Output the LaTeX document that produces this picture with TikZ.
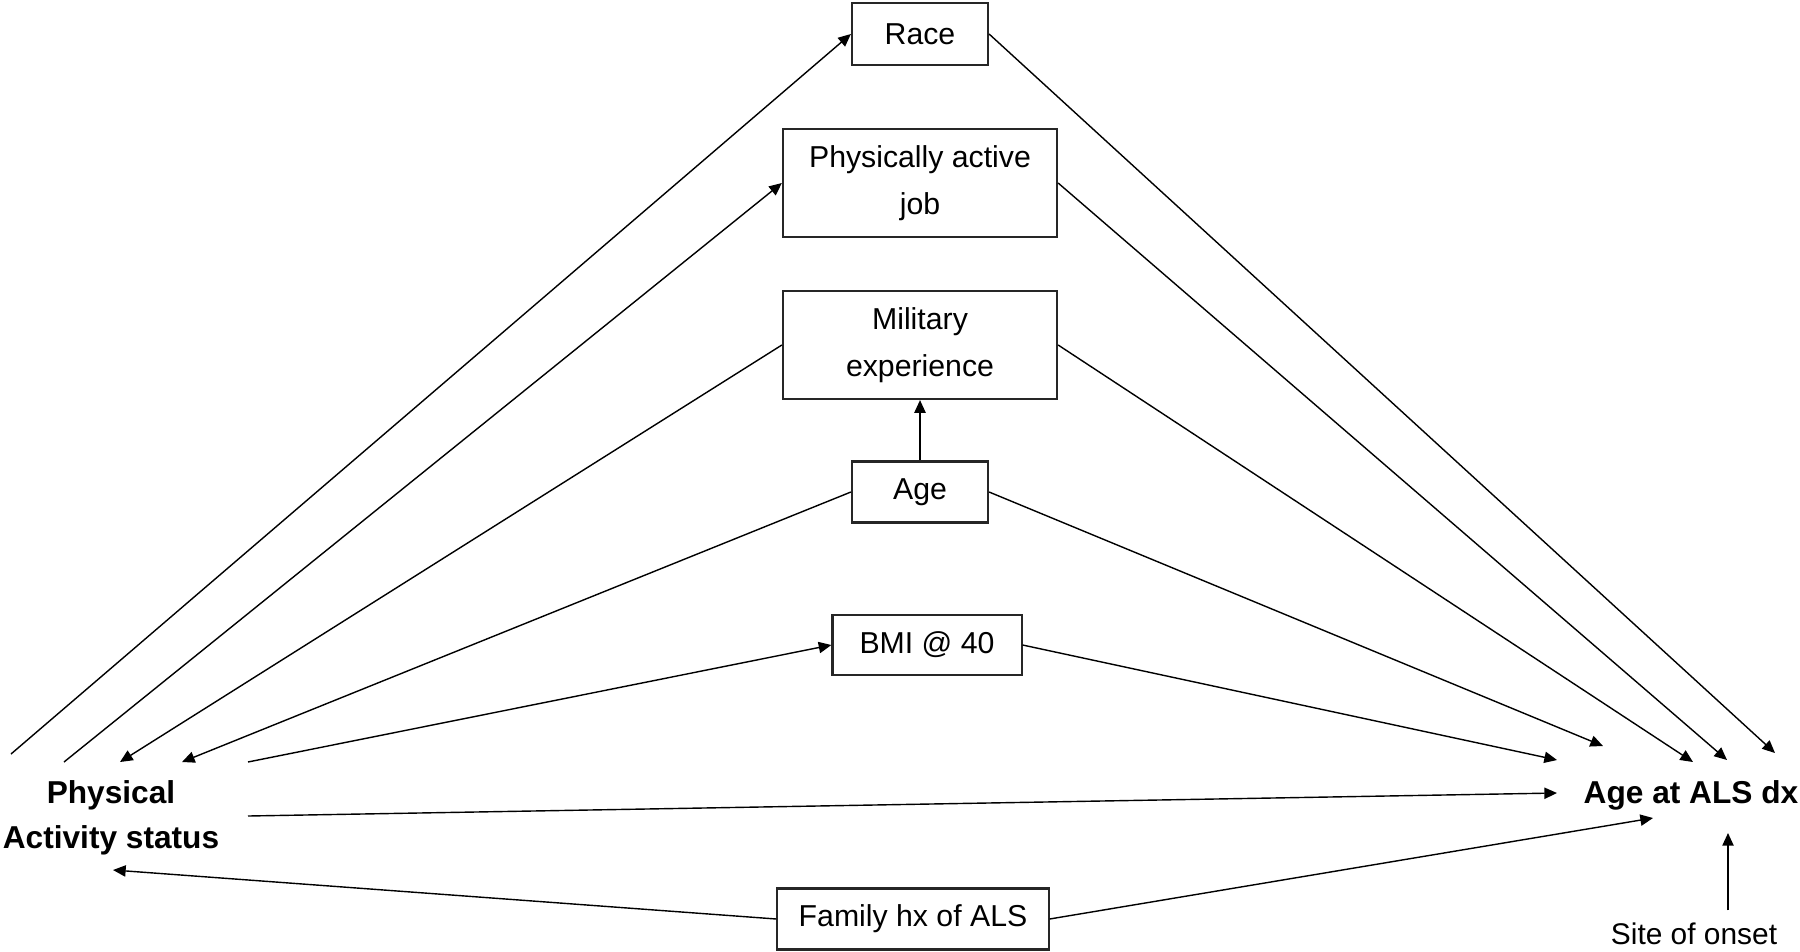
\documentclass[tikz,border=0pt]{standalone}
\usepackage{fontspec}
\setmainfont{Liberation Sans}
\usetikzlibrary{arrows.meta, positioning}

\begin{document}
\begin{tikzpicture}[
  x=0.01cm, y=-0.01cm,
  box/.style     = {rectangle, draw=black!85, line width=0.6pt, fill=white,
                    align=center, inner sep=0pt,
                    font=\fontsize{8.6}{13.2}\selectfont},
  outcome/.style = {align=center, inner sep=0pt,
                    font=\fontsize{9}{12.8}\selectfont\bfseries},
  note/.style    = {align=center, inner sep=0pt,
                    font=\fontsize{8.5}{12.4}\selectfont},
  arr/.style     = {-{Triangle[length=3.6pt, width=3.2pt]}, line width=0.4pt}
]
\useasboundingbox (0,0) rectangle (1800,951);

% ── Covariate boxes (middle column) ─────────────────────────────────────────
\node[box, minimum width=1.36cm, minimum height=0.62cm] (race) at (920,34)  {Race};
\node[box, minimum width=2.74cm, minimum height=1.08cm] (job)  at (920,183) {Physically active\\job};
\node[box, minimum width=2.74cm, minimum height=1.08cm] (mil)  at (920,345) {Military\\experience};
\node[box, minimum width=1.36cm, minimum height=0.61cm] (age)  at (920,492) {Age};
\node[box, minimum width=1.89cm, minimum height=0.60cm] (bmi)  at (927,645) {BMI @ 40};
\node[box, minimum width=2.71cm, minimum height=0.61cm] (fam)  at (913,919) {Family hx of ALS};

% ── Exposure and outcome ────────────────────────────────────────────────────
\node[outcome] (pa) at (111,818)  {Physical\\Activity status};
\node[outcome] (dx) at (1691,795) {Age at ALS dx};
\node[note]  (site) at (1694,934) {Site of onset};

% ── Connector ends round the two labels ─────────────────────────────────────
\coordinate (paA) at (11,754);
\coordinate (paB) at (64,762);
\coordinate (paC) at (120,762);
\coordinate (paD) at (182,762);
\coordinate (paE) at (248,762);
\coordinate (paF) at (248,816);
\coordinate (paG) at (113,870);
\coordinate (dxA) at (1775,753);
\coordinate (dxB) at (1727,760);
\coordinate (dxC) at (1693,762);
\coordinate (dxD) at (1603,746);
\coordinate (dxE) at (1557,760);
\coordinate (dxF) at (1557,793);
\coordinate (dxG) at (1653,818);
\coordinate (dxH) at (1728,833);

% ── Left side ───────────────────────────────────────────────────────────────
\draw[arr] (paA) -- (race.west);
\draw[arr] (paB) -- (job.west);
\draw[arr] (mil.west) -- (paC);
\draw[arr] (age.west) -- (paD);
\draw[arr] (paE) -- (bmi.west);
\draw[arr] (fam.west) -- (paG);

% ── Right side ──────────────────────────────────────────────────────────────
\draw[arr] (race.east) -- (dxA);
\draw[arr] (job.east)  -- (dxB);
\draw[arr] (mil.east)  -- (dxC);
\draw[arr] (age.east)  -- (dxD);
\draw[arr] (bmi.east)  -- (dxE);
\draw[arr] (fam.east)  -- (dxG);

% ── Direct path, age, site ──────────────────────────────────────────────────
\draw[arr] (paF) -- (dxF);
\draw[arr] (age.north) -- (mil.south);
\draw[arr] ([yshift=0.12cm]site.north -| dxH) -- (dxH);
\end{tikzpicture}
\end{document}
